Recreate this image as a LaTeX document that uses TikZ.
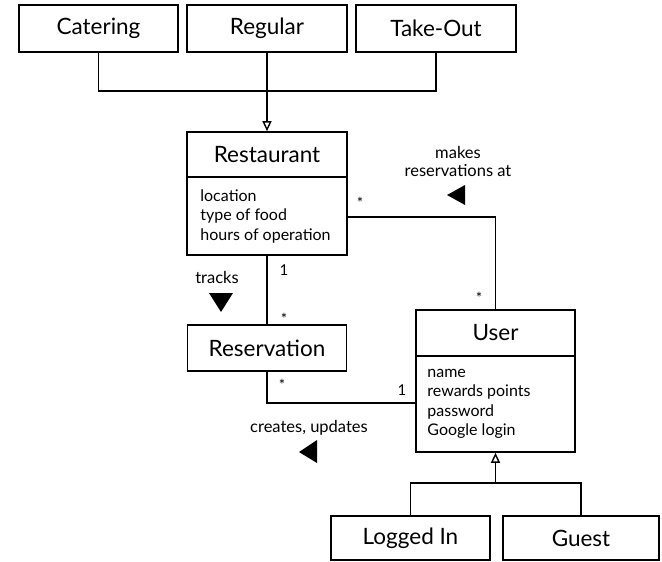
\documentclass[tikz,border=0pt]{standalone}
\usepackage{fontspec}
\setmainfont{Lato}
\usetikzlibrary{arrows.meta,positioning}
\begin{document}
\begin{tikzpicture}[x=1pt,y=-1pt,
  box/.style={draw,line width=1.6pt,rectangle,inner sep=0pt,font=\fontsize{22.5}{24}\selectfont},
  hdr/.style={draw,line width=1.6pt,rectangle,inner sep=0pt,font=\fontsize{22.5}{24}\selectfont},
  attr/.style={draw,line width=1.6pt,rectangle,inner sep=0pt},
  attrtext/.style={inner sep=0pt,align=left,anchor=west,font=\fontsize{16}{19.5}\selectfont},
  conn/.style={line width=1.5pt},
  lbl/.style={font=\fontsize{16.5}{18}\selectfont,inner sep=0pt,align=center},
  mult/.style={font=\fontsize{15}{16}\selectfont,inner sep=0pt},
  gen/.style={line width=1.5pt,-{Triangle[open,length=10pt,width=9pt,line width=1.4pt]}}]
\useasboundingbox (0,0) rectangle (662,562);
\fill[white] (0,0) rectangle (662,562);
% top boxes
\node[box,minimum width=159pt,minimum height=47pt] (cat) at (98.5,28.5) {Catering};
\node[box,minimum width=160pt,minimum height=47pt] (reg) at (267,28.5) {Regular};
\node[box,minimum width=160pt,minimum height=47pt] (tak) at (436,28.5) {Take-Out};
% Restaurant
\node[hdr,minimum width=160pt,minimum height=45pt] (resth) at (267,154.5) {Restaurant};
\node[attr,minimum width=160pt,minimum height=78pt] (resta) at (267,216) {};
\node[attrtext] (restt) at ([xshift=14pt]resta.west) {location\\type of food\\hours of operation};
% Reservation
\node[hdr,minimum width=159pt,minimum height=46pt] (resv) at (267,348) {Reservation};
% User
\node[hdr,minimum width=159pt,minimum height=46pt] (userh) at (495.5,333) {User};
\node[attr,minimum width=159pt,minimum height=96pt] (usera) at (495.5,404) {};
\node[attrtext] (usert) at ([xshift=12pt]usera.west) {name\\rewards points\\password\\Google login};
% subclasses
\node[box,minimum width=159pt,minimum height=44pt] (log) at (410.5,538) {Logged In};
\node[box,minimum width=156pt,minimum height=44pt] (gst) at (581,538) {Guest};
% generalization to Restaurant
\coordinate (j1) at (267,91);
\draw[conn] (cat.south) |- (j1) -| (tak.south);
\draw[gen] (reg.south) -- (resth.north);
% generalization to User
\coordinate (j2) at (495.5,483);
\draw[conn] (log.north) |- (j2) -| (gst.north);
\draw[gen] (j2) -- (usera.south);
% associations
\coordinate (c1) at (495.5,217);
\draw[conn] (resta.east |- c1) -- (c1) -- (userh.north);
\draw[conn] (resta.south) -- (resv.north);
\coordinate (c2) at (267,403);
\draw[conn] (resv.south) -- (c2) -- (c2 -| usera.west);
% multiplicities
\node[mult] (m1) at (360,203) {*};
\node[mult] (m2) at (479,298) {*};
\node[mult] (m3) at (284,270) {1};
\node[mult] (m4) at (284,319) {*};
\node[mult] (m5) at (282,385) {*};
\node[mult] (m6) at (402,390) {1};
% labels
\node[lbl] (l1) at (458,161) {makes\\reservations at};
\node[lbl] (l2) at (217,277) {tracks};
\node[lbl] (l3) at (309,428) {creates, updates};
% direction triangles
\fill (447,195) -- (465,185) -- (465,205) -- cycle;
\fill (209,293) -- (233,293) -- (221,312) -- cycle;
\fill (299,452) -- (317,440) -- (317,463) -- cycle;
\end{tikzpicture}
\end{document}
